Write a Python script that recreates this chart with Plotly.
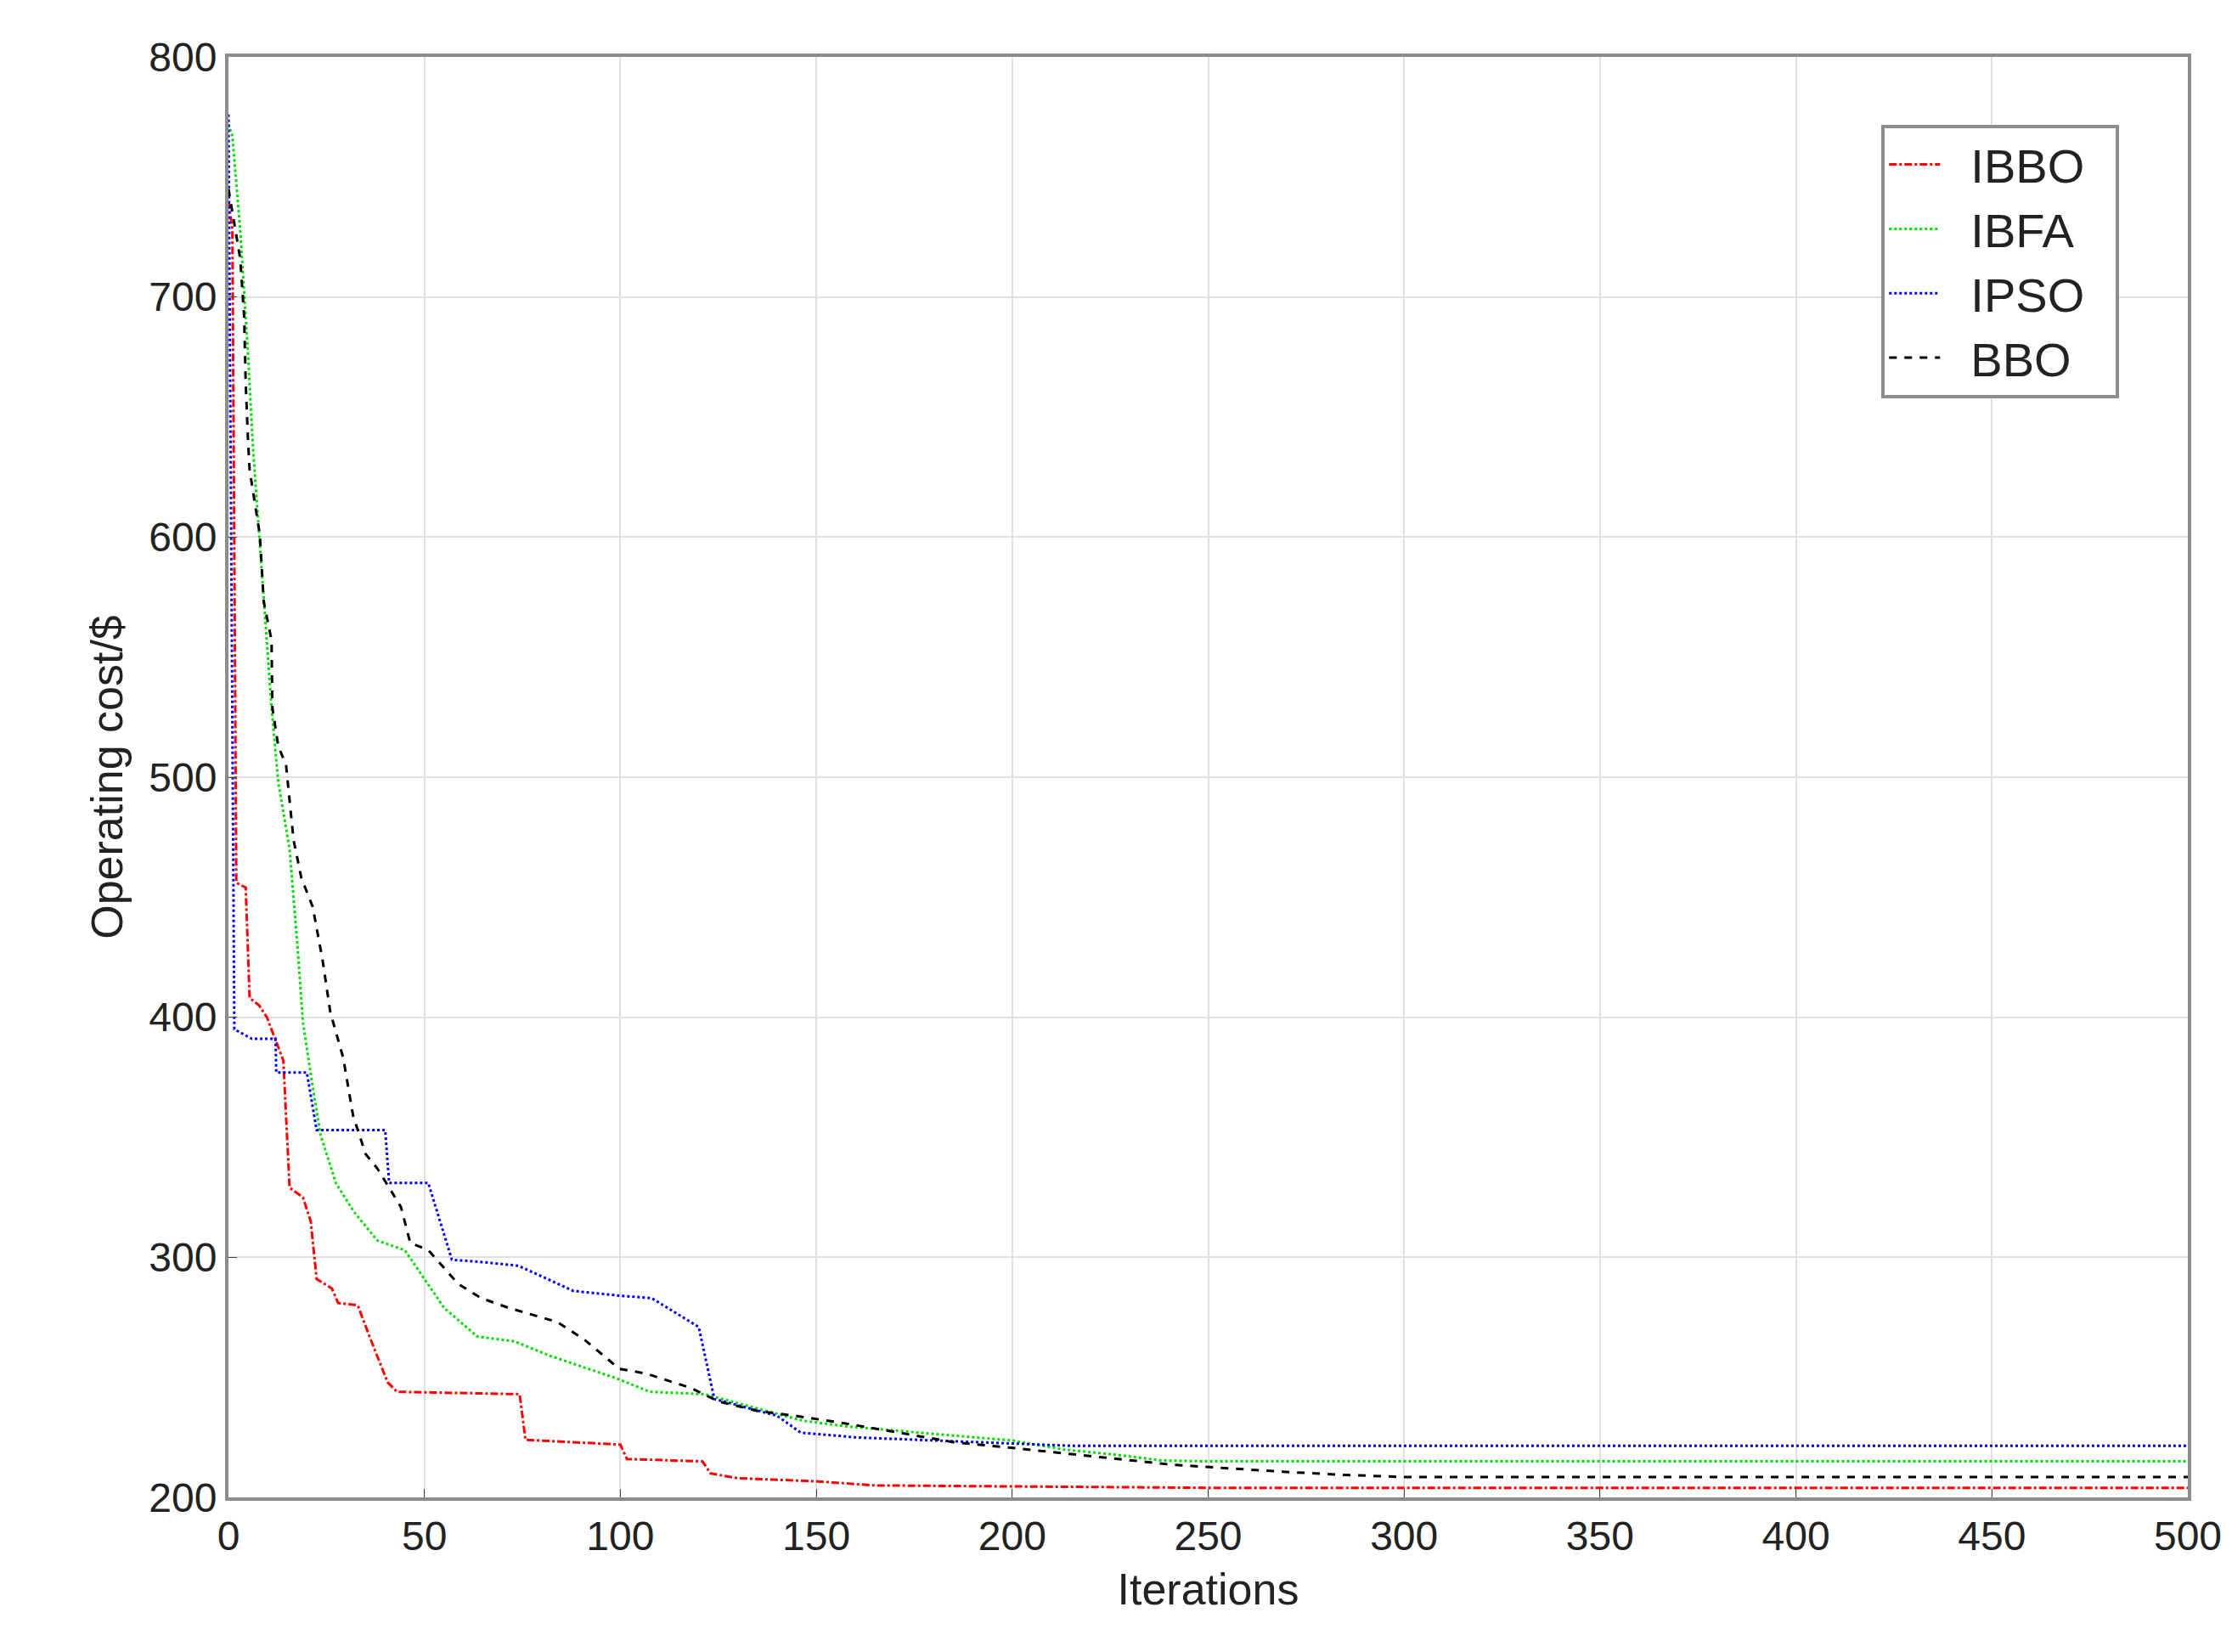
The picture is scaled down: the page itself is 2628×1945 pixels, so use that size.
import plotly.graph_objects as go

# convergence curves
ibbo_x = [0, 1, 2, 4.4, 5.4, 7.8, 9.8, 14, 15.6, 19, 21, 22.5, 26.4, 28, 33, 36, 40.6, 43, 74.3, 75.8, 100, 101.7, 121, 123, 130, 150, 165, 200, 250, 500]
ibbo_y = [740, 728, 456, 454, 408, 405, 400, 382, 329, 325, 315, 291, 287, 281, 280, 267, 248, 244, 243, 224, 222, 216, 215, 210, 208, 206.7, 205, 204.5, 204, 204]

ibfa_x = [0, 1, 3, 5, 6.3, 8, 9.3, 11, 12.7, 15.6, 17.6, 19, 21.5, 23.5, 27.4, 32, 38, 45, 50, 55, 63.5, 73, 82, 99, 107.5, 121.5, 132.8, 146.5, 157.5, 180, 200, 213, 227, 238, 250, 500]
ibfa_y = [772, 767, 728, 676, 636, 597, 569, 529, 498, 470, 430, 398, 371, 351, 331, 319, 307, 303, 291, 279, 267, 265, 259, 249.6, 244, 243, 238, 232, 229.6, 226.6, 223.7, 220, 217.7, 215.4, 215, 215]

ipso_x = [0, 1, 1.5, 6, 12, 12.2, 20, 22.5, 40, 41, 51, 57, 65, 74, 88, 100, 108, 120, 124, 140, 146, 160, 180, 200, 215, 500]
ipso_y = [776, 500, 395, 391, 391, 377, 377, 353, 353, 331, 331, 299, 298, 296.5, 286, 284, 283, 271, 241, 234, 227, 225, 223.7, 222.5, 221.5, 221.5]

bbo_x = [0, 0.5, 3, 4, 4.4, 5, 5.4, 8, 9, 11, 11.2, 12.7, 14.7, 16.6, 18.6, 21.5, 24, 26, 29.3, 31.8, 35, 38, 44, 46.4, 51, 58.6, 64.5, 71.4, 84, 91, 99.7, 106.5, 118, 125, 135, 144.6, 157.5, 171, 185, 199, 213, 227, 241, 252, 269, 283, 300, 500]
bbo_y = [745, 740, 716, 692, 664, 640, 628, 601, 573, 557, 529, 513, 505, 474, 458, 446, 424, 402, 383, 359, 343, 337, 321, 306, 303, 289, 283, 279, 273, 265.5, 253.6, 251.6, 245.6, 240, 236, 234, 230.8, 227, 223, 220.8, 218.3, 216, 213.6, 212.4, 210.7, 209.5, 208.5, 208.5]

series = [
    ("IBBO", ibbo_x, ibbo_y, "#ff0000", "dashdot"),
    ("IBFA", ibfa_x, ibfa_y, "#00dd00", "dot"),
    ("IPSO", ipso_x, ipso_y, "#0000ff", "dot"),
    ("BBO", bbo_x, bbo_y, "#000000", "dash"),
]

fig = go.Figure()
for name, xs, ys, color, dash in series:
    fig.add_trace(go.Scatter(x=xs, y=ys, mode="lines", name="  " + name + "  ",
                             line=dict(color=color, dash=dash, width=3)))

axis_common = dict(showgrid=True, gridcolor="#e0e0e0", gridwidth=2,
                   showline=True, linecolor="#8c8c8c", linewidth=4, mirror=True,
                   ticks="inside", ticklen=10, tickcolor="#444", zeroline=False,
                   tickfont=dict(size=48, color="#222"))

fig.update_layout(
    width=2628, height=1945,
    margin=dict(l=261, r=60, t=59, b=190),
    plot_bgcolor="white", paper_bgcolor="white",
    font=dict(family="Liberation Sans, Arial", size=48, color="#222"),
    xaxis=dict(range=[0, 500], dtick=50,
               title=dict(text="Iterations", font=dict(size=52), standoff=20),
               **axis_common),
    yaxis=dict(range=[200, 800], dtick=100,
               title=dict(text="Operating cost/$", font=dict(size=52), standoff=15),
               **axis_common),
    legend=dict(x=0.965, y=0.953, xanchor="right", yanchor="top",
                bgcolor="white", bordercolor="#8c8c8c", borderwidth=4,
                font=dict(size=56), itemwidth=60),
    showlegend=True,
)

fig.write_html("out.html")
